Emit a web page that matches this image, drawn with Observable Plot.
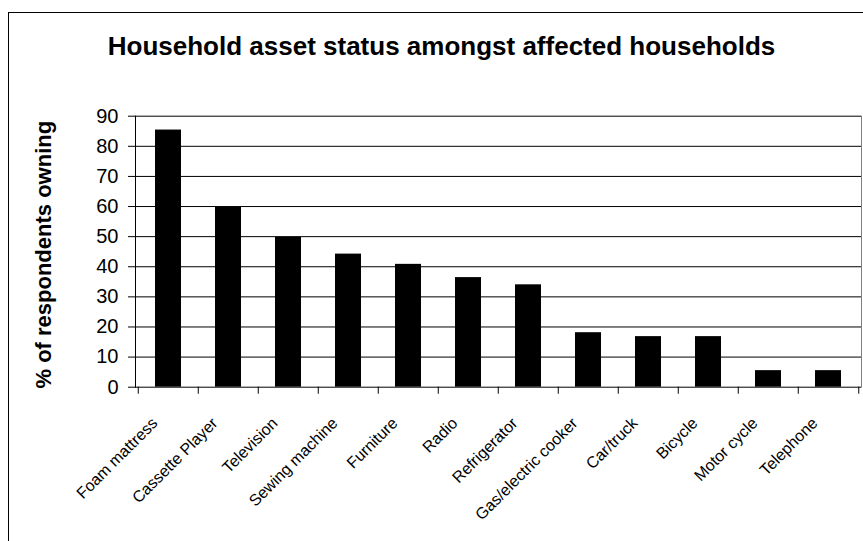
<!DOCTYPE html>
<html><head><meta charset="utf-8">
<script src="https://cdn.jsdelivr.net/npm/d3@7"></script>
<script src="https://cdn.jsdelivr.net/npm/@observablehq/plot@0.6"></script>
<style>
html,body{margin:0;padding:0;background:#fff;overflow:hidden;}
#wrap{position:relative;width:863px;height:541px;overflow:hidden;font-family:"Liberation Sans",Arial,sans-serif;}
#border{position:absolute;left:7.5px;top:12px;width:1000px;height:1000px;border:1.5px solid #000;box-sizing:border-box;}
#title{position:absolute;left:0;width:883px;top:31px;line-height:30px;text-align:center;font-weight:bold;font-size:26px;color:#000;}
#chart{position:absolute;left:0;top:0;}
</style></head><body>
<div id="wrap"><div id="border"></div><div id="title">Household asset status amongst affected households</div><div id="chart"></div></div>
<script>
const categories = ["Foam mattress","Cassette Player","Television","Sewing machine","Furniture","Radio","Refrigerator","Gas/electric cooker","Car/truck","Bicycle","Motor cycle","Telephone"];
const values = [85.4, 59.7, 49.8, 44.2, 40.8, 36.4, 34.0, 18.1, 16.8, 16.8, 5.5, 5.5];
const yTicks = [0,10,20,30,40,50,60,70,80,90];
const gridTicks = [10,20,30,40,50,60,70,80,90];
const yTitle = "% of respondents owning";

const W = 863, H = 541;
const mL = 135, mT = 115.7, mR = 2, mB = H - 386.7;
const step = (W - mL - mR) / categories.length;
const data = categories.map((c, i) => ({category: c, value: values[i]}));

const chart = Plot.plot({
  width: W, height: H,
  marginLeft: mL, marginTop: mT, marginRight: mR, marginBottom: mB,
  style: {fontFamily: "'Liberation Sans', Arial, sans-serif", background: "transparent", color: "#000", overflow: "visible"},
  x: {domain: categories, paddingInner: 0.57, paddingOuter: 0.285, axis: null},
  y: {domain: [0, 90], axis: null},
  marks: [
    Plot.ruleY(gridTicks, {stroke: "#000", strokeWidth: 1}),
    Plot.frame({anchor: "right", stroke: "#808080"}),
    Plot.barY(data, {x: "category", y: "value", fill: "#000"}),
    Plot.ruleY([0], {stroke: "#000"}),
    Plot.frame({anchor: "left", stroke: "#000"}),
    Plot.axisY({ticks: yTicks, tickSize: 7, tickPadding: 10, fontSize: 20, label: null, tickFormat: d => String(d)}),
    Plot.axisX({tickSize: 7, tickFormat: () => "", label: null, dx: -step / 2}),
    Plot.axisX({ticks: [categories[categories.length - 1]], tickSize: 7, tickFormat: () => "", label: null, dx: step / 2}),
    Plot.text(categories, {x: d => d, frameAnchor: "bottom", text: d => d, rotate: -45, textAnchor: "end", fontSize: 16, dx: -10, dy: 37}),
    Plot.text([yTitle], {frameAnchor: "left", text: d => d, rotate: -90, textAnchor: "middle", fontSize: 22, fontWeight: "bold", dx: -92, dy: 3})
  ]
});
document.getElementById("chart").appendChild(chart);
</script>
</body></html>
